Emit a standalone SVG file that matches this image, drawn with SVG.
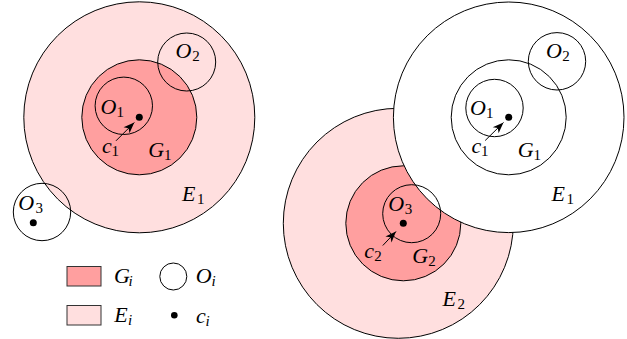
<svg xmlns="http://www.w3.org/2000/svg" width="627" height="339" viewBox="0 0 627 339">
  <defs>
    <style>
      .e { fill: #ffdfdf; stroke: #000; stroke-width: 1; }
      .g { fill: #ff9f9f; stroke: #000; stroke-width: 1; }
      .w { fill: #ffffff; stroke: #000; stroke-width: 1; }
      .o { fill: none; stroke: #000; stroke-width: 1; }
      .dot { fill: #000; }
      .lbl { font-family: "Liberation Serif", "DejaVu Serif", serif; font-style: italic; font-size: 22px; fill: #000; }
      .sub { font-style: normal; font-size: 15px; }
      .subi { font-style: italic; font-size: 15px; }
      .arr { stroke: #000; stroke-width: 1; fill: none; marker-end: url(#stealth); }
      .key { stroke: #333; stroke-width: 1; }
    </style>
    <marker id="stealth" markerUnits="userSpaceOnUse" markerWidth="14" markerHeight="12" viewBox="-12 -6 13 12" refX="0" refY="0" orient="auto">
      <path d="M0,0 L-11,-4.2 L-8,0 L-11,4.2 Z" fill="#000"/>
    </marker>
  </defs>

  <!-- Left figure -->
  <g id="E1-left"><circle class="e" cx="139.3" cy="117.3" r="115.5"/></g>
  <g id="G1-left"><circle class="g" cx="139.3" cy="117.3" r="57.5"/></g>
  <g id="O1-left"><circle class="o" cx="123.8" cy="105.8" r="28.7"/></g>
  <g id="O2-left"><circle class="o" cx="186.7" cy="62" r="29"/></g>
  <g id="O3-left"><circle class="o" cx="42" cy="212" r="28.7"/><circle class="dot" cx="33.3" cy="222.7" r="3.5"/></g>
  <g id="c1-left"><circle class="dot" cx="139.3" cy="117.3" r="3.5"/></g>

  <!-- Right figure -->
  <g id="E2-right"><circle class="e" cx="398.3" cy="223.3" r="115"/></g>
  <g id="G2-right"><circle class="g" cx="403.3" cy="223.3" r="57.5"/></g>
  <g id="E1-right"><circle class="w" cx="508.7" cy="117.3" r="115.3"/></g>
  <g id="G1-right"><circle class="o" cx="508.7" cy="117.3" r="57.5"/></g>
  <g id="O1-right"><circle class="o" cx="494.5" cy="108" r="28.7"/></g>
  <g id="O2-right"><circle class="o" cx="557" cy="61.3" r="28.7"/></g>
  <g id="O3-right"><circle class="o" cx="411.7" cy="213.7" r="29"/></g>
  <g id="c1-right"><circle class="dot" cx="508.7" cy="117.3" r="3.5"/></g>
  <g id="c2-right"><circle class="dot" cx="403.3" cy="223.3" r="3.5"/></g>

  <!-- Connectors -->
  <g id="connectors">
    <line class="arr" x1="116" y1="140.8" x2="134.3" y2="122.5"/>
    <line class="arr" x1="485.2" y1="140.5" x2="503.5" y2="122.5"/>
    <line class="arr" x1="382.8" y1="245.5" x2="396" y2="231.5"/>
  </g>

  <!-- Labels left -->
  <g id="labels-left">
    <text class="lbl" x="100.5" y="113.5">O<tspan class="sub" x="116.5" y="116.5">1</tspan></text>
    <text class="lbl" x="102" y="152.5">c<tspan class="sub" x="111.5" y="155.5">1</tspan></text>
    <text class="lbl" x="148.3" y="157">G<tspan class="sub" x="164" y="160">1</tspan></text>
    <text class="lbl" x="182" y="200.5">E<tspan class="sub" x="197" y="203.5">1</tspan></text>
    <text class="lbl" x="175.6" y="58">O<tspan class="sub" x="192.3" y="61">2</tspan></text>
    <text class="lbl" x="18.3" y="209.5">O<tspan class="sub" x="35.5" y="212.5">3</tspan></text>
  </g>

  <!-- Labels right -->
  <g id="labels-right">
    <text class="lbl" x="470.1" y="114.5">O<tspan class="sub" x="486" y="117.5">1</tspan></text>
    <text class="lbl" x="471.4" y="152.5">c<tspan class="sub" x="480.9" y="155.5">1</tspan></text>
    <text class="lbl" x="517.7" y="157">G<tspan class="sub" x="533.4" y="160">1</tspan></text>
    <text class="lbl" x="551.4" y="200.5">E<tspan class="sub" x="566.4" y="203.5">1</tspan></text>
    <text class="lbl" x="546.1" y="57.5">O<tspan class="sub" x="562.3" y="60.5">2</tspan></text>
    <text class="lbl" x="388.3" y="211">O<tspan class="sub" x="404.8" y="214">3</tspan></text>
    <text class="lbl" x="364.3" y="257.5">c<tspan class="sub" x="374.3" y="260.5">2</tspan></text>
    <text class="lbl" x="412.3" y="263">G<tspan class="sub" x="428.3" y="266">2</tspan></text>
    <text class="lbl" x="442.5" y="305.5">E<tspan class="sub" x="457.5" y="308.5">2</tspan></text>
  </g>

  <!-- Legend -->
  <g id="legend-G"><rect class="g key" x="67" y="266.5" width="34" height="19.5"/>
    <text class="lbl" x="114.1" y="283">G<tspan class="subi" x="128.5" y="286">i</tspan></text></g>
  <g id="legend-E"><rect class="e key" x="67" y="305.5" width="34" height="19.5"/>
    <text class="lbl" x="114.3" y="321.5">E<tspan class="subi" x="128" y="324.5">i</tspan></text></g>
  <g id="legend-O"><circle class="o" cx="173.3" cy="276.5" r="13.5"/>
    <text class="lbl" x="195.8" y="283">O<tspan class="subi" x="211.5" y="286">i</tspan></text></g>
  <g id="legend-c"><circle class="dot" cx="174.3" cy="315.3" r="3.3"/>
    <text class="lbl" x="196.1" y="322.5">c<tspan class="subi" x="205.5" y="325.5">i</tspan></text></g>
</svg>
